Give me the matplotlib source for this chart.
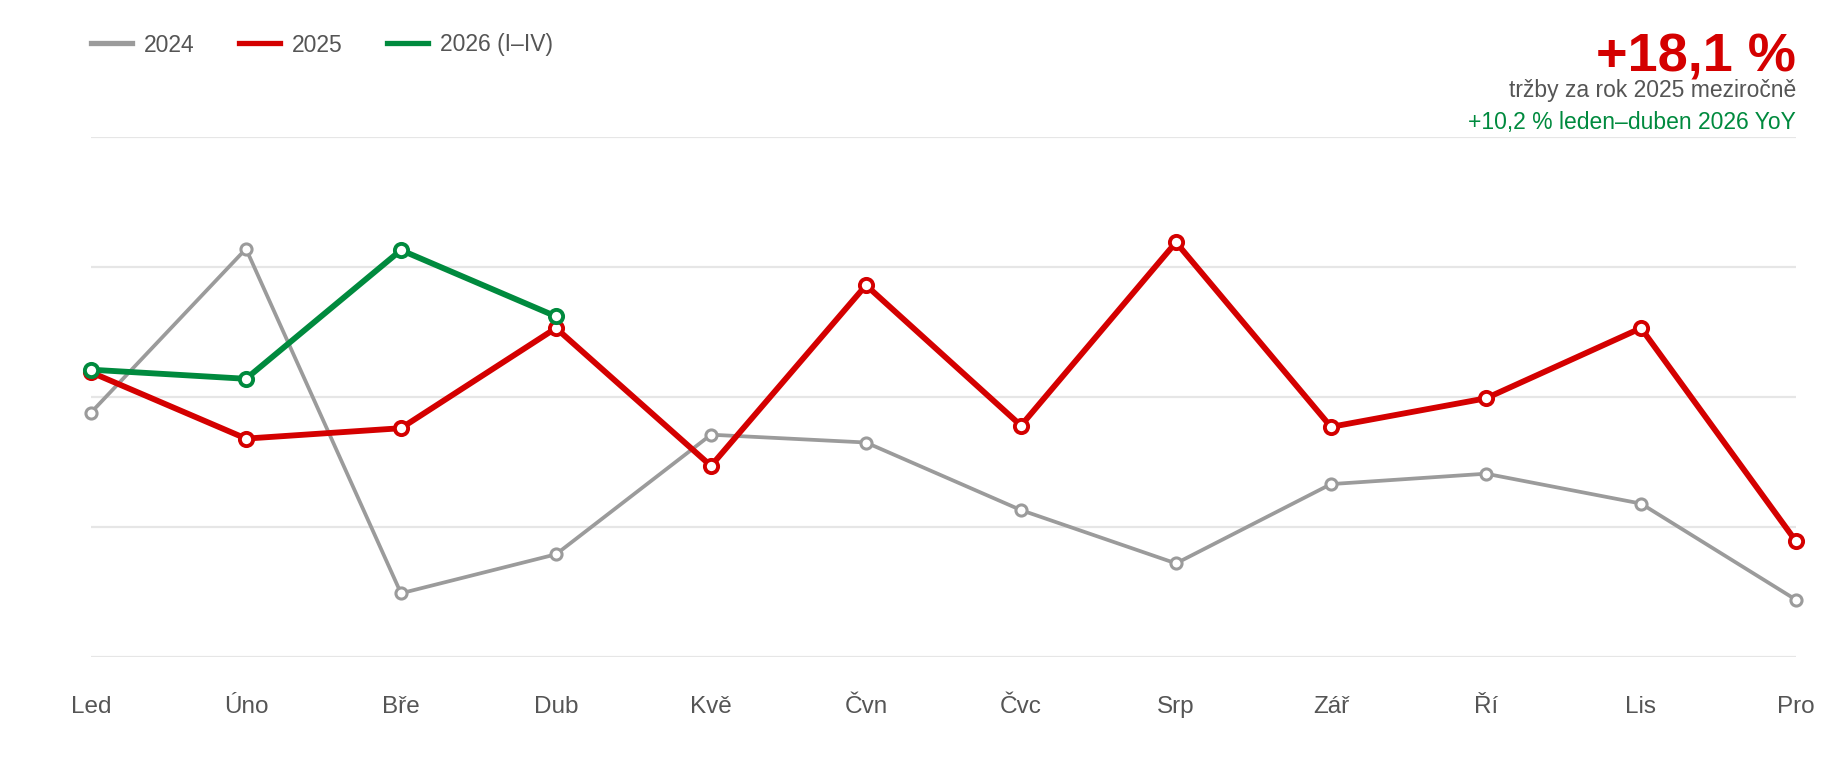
import matplotlib.pyplot as plt
from matplotlib.lines import Line2D

plt.rcParams['font.family'] = ['Liberation Sans', 'DejaVu Sans']

months = ['Led', 'Úno', 'Bře', 'Dub', 'Kvě', 'Čvn', 'Čvc', 'Srp', 'Zář', 'Ří', 'Lis', 'Pro']
sales_2024 = [1.88, 3.14, 0.49, 0.79, 1.71, 1.65, 1.13, 0.72, 1.33, 1.41, 1.18, 0.44]
sales_2025 = [2.19, 1.68, 1.76, 2.53, 1.47, 2.86, 1.78, 3.19, 1.77, 1.99, 2.53, 0.89]
sales_2026 = [2.21, 2.14, 3.13, 2.62]

GRAY = '#9b9b9b'
RED = '#d40000'
GREEN = '#008a3e'

W, H = 1840, 760
LEFT, RIGHT = 91, 1796
fig = plt.figure(figsize=(W / 100, H / 100), dpi=100)
ax = fig.add_axes([LEFT / W, 1 - 657 / H, (RIGHT - LEFT) / W, (657 - 137) / H])

x = list(range(len(months)))
ax.plot(x, sales_2024, color=GRAY, lw=2.7, marker='o', ms=8, mfc='white',
        mec=GRAY, mew=2.2, clip_on=False, zorder=3)
ax.plot(x, sales_2025, color=RED, lw=4.2, marker='o', ms=9.5, mfc='white',
        mec=RED, mew=2.8, clip_on=False, zorder=4)
ax.plot(x[:len(sales_2026)], sales_2026, color=GREEN, lw=4.2, marker='o', ms=9.5,
        mfc='white', mec=GREEN, mew=2.8, clip_on=False, zorder=5)

ax.set_xlim(0, 11)
ax.set_ylim(0, 4)
ax.set_yticks([0, 1, 2, 3, 4])
ax.set_yticklabels([])
ax.grid(axis='y', color='#e6e6e6', lw=1.6)
ax.set_axisbelow(True)
ax.set_xticks(x)
ax.set_xticklabels(months, fontsize=17.5, color='#555555')
ax.tick_params(axis='x', length=0, pad=28)
ax.tick_params(axis='y', length=0)
for s in ax.spines.values():
    s.set_visible(False)

handles = [Line2D([], [], color=GRAY, lw=3.8),
           Line2D([], [], color=RED, lw=3.8),
           Line2D([], [], color=GREEN, lw=3.8)]
fig.legend(handles, ['2024', '2025', '2026 (I–IV)'], loc='center left',
           bbox_to_anchor=(LEFT / W, 1 - 45 / H), ncol=3, frameon=False,
           fontsize=16.5, labelcolor='#555555', handlelength=1.8,
           handletextpad=0.5, columnspacing=1.95, borderpad=0, borderaxespad=0)

# headline numbers, top right
fig.text(RIGHT / W, 1 - 71 / H, '+18,1 %', ha='right', va='baseline',
         fontsize=39, fontweight='bold', color=RED)
fig.text(RIGHT / W, 1 - 97 / H, 'tržby za rok 2025 meziročně', ha='right',
         va='baseline', fontsize=16.5, color='#555555')
fig.text(RIGHT / W, 1 - 129 / H, '+10,2 % leden–duben 2026 YoY', ha='right',
         va='baseline', fontsize=16.5, color=GREEN)

fig.savefig('out.png', dpi=100, facecolor='white')
